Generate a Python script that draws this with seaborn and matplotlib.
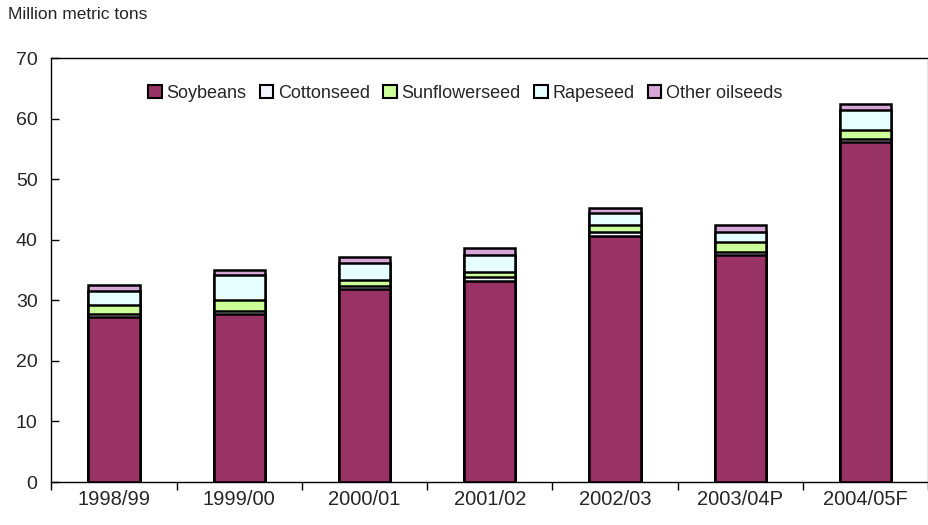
import matplotlib
matplotlib.use("Agg")
import matplotlib.pyplot as plt
from matplotlib.patches import Patch
from matplotlib.ticker import FixedLocator
import numpy as np
import pandas as pd
import seaborn as sns

# Marketing years
years = ["1998/99", "1999/00", "2000/01", "2001/02", "2002/03", "2003/04P", "2004/05F"]

# Million metric tons by oilseed
soybeans = [27.3, 27.7, 31.9, 33.2, 40.6, 37.5, 56.1]
cottonseed = [0.4, 0.6, 0.5, 0.7, 0.6, 0.5, 0.5]
sunflowerseed = [1.5, 1.7, 0.95, 0.8, 1.2, 1.7, 1.5]
rapeseed = [2.4, 4.2, 2.75, 2.8, 2.0, 1.6, 3.3]
other_oilseeds = [0.9, 0.8, 1.0, 1.1, 0.8, 1.1, 1.0]

series_names = ["Soybeans", "Cottonseed", "Sunflowerseed", "Rapeseed", "Other oilseeds"]
series_colors = ["#993366", "#F4F4FF", "#CCFF99", "#E8FFFF", "#D9A6D9"]

sns.set_theme(style="white")
plt.rcParams["font.family"] = ["Liberation Sans", "DejaVu Sans"]

df = pd.DataFrame({
    "year": years,
    "Soybeans": soybeans,
    "Cottonseed": cottonseed,
    "Sunflowerseed": sunflowerseed,
    "Rapeseed": rapeseed,
    "Other oilseeds": other_oilseeds,
})
cum = df[series_names].cumsum(axis=1)

fig = plt.figure(figsize=(9.29, 5.25), dpi=100)
ax = fig.add_axes([0.0554, 0.0819, 0.9436, 0.8076])

# Stacked bars: draw cumulative totals from the top layer down
for name, color in reversed(list(zip(series_names, series_colors))):
    sns.barplot(x=df["year"], y=cum[name], color=color, width=0.41,
                edgecolor="black", linewidth=1.8, saturation=1, ax=ax)

ax.set_ylim(0, 70)
ax.set_xlim(-0.5, len(years) - 0.5)
ax.set_yticks(range(0, 71, 10))
ax.set_xlabel("")
ax.set_ylabel("")

ax.tick_params(axis="y", direction="in", length=6, width=1, color="black",
               labelsize=14, pad=10, left=True)
ax.tick_params(axis="x", which="major", length=0, labelsize=14.5, pad=6)
ax.xaxis.set_minor_locator(FixedLocator(np.arange(-0.5, len(years), 1.0)))
ax.tick_params(axis="x", which="minor", direction="out", length=6, width=1,
               color="black", bottom=True)

for side in ["left", "bottom", "top"]:
    ax.spines[side].set_color("black")
    ax.spines[side].set_linewidth(1.0)
ax.spines["right"].set_color("#808080")
ax.spines["right"].set_linewidth(1.0)

handles = [Patch(facecolor=c, edgecolor="black", linewidth=1.5, label=n)
           for n, c in zip(series_names, series_colors)]
ax.legend(handles=handles, loc="center", bbox_to_anchor=(0.472, 0.917),
          ncol=5, frameon=False, fontsize=13, handlelength=0.75,
          handleheight=0.75, handletextpad=0.25, columnspacing=0.75)

fig.text(0.009, 0.972, "Million metric tons", fontsize=12.5, ha="left", va="center")

fig.savefig("out.png", dpi=100)
